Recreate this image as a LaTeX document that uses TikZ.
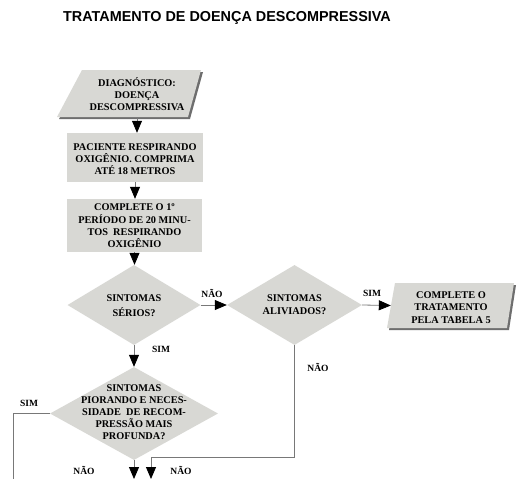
\documentclass[tikz,border=0pt]{standalone}
\usepackage{fontspec}
\setmainfont{Liberation Serif}
\newfontfamily\titlefont{Liberation Sans}
\usetikzlibrary{shapes.geometric,arrows.meta}
\definecolor{sfill}{RGB}{216,216,212}
\definecolor{shadowc}{RGB}{110,110,110}
\definecolor{linec}{RGB}{120,120,120}
\begin{document}
\begin{tikzpicture}[x=1pt,y=-1pt,
  txt/.style={font=\fontsize{10.3}{12.3}\selectfont\bfseries, align=center, inner sep=0pt},
  lbl/.style={font=\fontsize{9.5}{11}\selectfont\bfseries, inner sep=0pt},
  boxnode/.style={rectangle, fill=sfill, inner sep=0pt},
  dianode/.style={diamond, fill=sfill, inner sep=0pt},
  conn/.style={draw=linec, line width=0.8pt},
  arr/.style={conn, -{Triangle[width=10pt,length=12pt,color=black]}}
]
\fill[white] (0,0) rectangle (524,479);
\useasboundingbox (0,0) rectangle (524,479);

% title
\node[font=\titlefont\fontsize{14.4}{16}\selectfont\bfseries, anchor=base, inner sep=0pt] (title) at (227,21) {TRATAMENTO DE DOENÇA DESCOMPRESSIVA};

% parallelogram 1
\fill[shadowc] (84,72) -- (203,72) -- (190,119) -- (59,119) -- cycle;
\fill[sfill] (82,70) -- (201,70) -- (188,117) -- (57,117) -- cycle;
\node[txt, minimum width=110pt, minimum height=47pt] (diag) at (137,94) {DIAGNÓSTICO:\\DOENÇA\\DESCOMPRESSIVA};

% box 2
\node[boxnode, minimum width=136pt, minimum height=49pt] (box2) at (135,157.5) {};
\node[txt] (box2t) at (135,159) {PACIENTE RESPIRANDO\\OXIGÊNIO. COMPRIMA\\ATÉ 18 METROS};

% box 3
\node[boxnode, minimum width=135pt, minimum height=53pt] (box3) at (134.5,225.5) {};
\node[txt] (box3t) at (134.5,226) {COMPLETE O 1º\\PERÍODO DE 20 MINU-\\TOS\ \ RESPIRANDO\\OXIGÊNIO};

% diamond 1
\node[dianode, minimum width=133pt, minimum height=80pt] (d1) at (134,305) {};
\node[txt, font=\fontsize{10.3}{14.5}\selectfont\bfseries] (d1t) at (134,305.5) {SINTOMAS\\SÉRIOS?};

% diamond 2
\node[dianode, minimum width=135pt, minimum height=80pt] (d2) at (294.5,305) {};
\node[txt, font=\fontsize{10.3}{13.5}\selectfont\bfseries] (d2t) at (294.5,304.5) {SINTOMAS\\ALIVIADOS?};

% parallelogram 2
\fill[shadowc] (397,285) -- (516,285) -- (509,330) -- (389,330) -- cycle;
\fill[sfill] (395,283) -- (514,283) -- (507,328) -- (387,328) -- cycle;
\node[txt, minimum width=120pt, minimum height=45pt] (fin) at (451,305.5) {};
\node[txt] (fint) at (451,307.5) {COMPLETE O\\TRATAMENTO\\PELA TABELA 5};

% diamond 3
\node[dianode, minimum width=168pt, minimum height=93pt] (d3) at (134,413.5) {};
\node[txt, font=\fontsize{10.3}{12}\selectfont\bfseries] (d3t) at (134,412) {SINTOMAS\\PIORANDO E NECES-\\SIDADE\ \ DE RECOM-\\PRESSÃO MAIS\\PROFUNDA?};

% coordinates for free ends
\coordinate (turn) at (151,457);
\coordinate (e1) at (151,479);
\coordinate (e2) at (134,479);
\coordinate (e3) at (13,479);

% connectors
\draw[arr] (diag.south) -- (diag.south |- box2.north);
\draw[arr] (box2.south) -- (box2.south |- box3.north);
\draw[arr] (box3.south) -- (box3.south |- d1.north);
\draw[arr] (d1.east) -- (d2.west);
\draw[arr] (d2.east) -- (fin.west);
\draw[arr] (d1.south) -- (d3.north);
\draw[arr] (d2.south) |- (turn) -- (e1);
\draw[arr] (d3.south) -- (e2);
\draw[conn] (d3.west) -| (e3);

% labels
\node[lbl] (l1) at (212,293) {NÃO};
\node[lbl] (l2) at (372,293) {SIM};
\node[lbl] (l3) at (161,349) {SIM};
\node[lbl] (l4) at (318,367) {NÃO};
\node[lbl] (l5) at (29,403) {SIM};
\node[lbl] (l6) at (84,470) {NÃO};
\node[lbl] (l7) at (181,470) {NÃO};
\end{tikzpicture}
\end{document}
